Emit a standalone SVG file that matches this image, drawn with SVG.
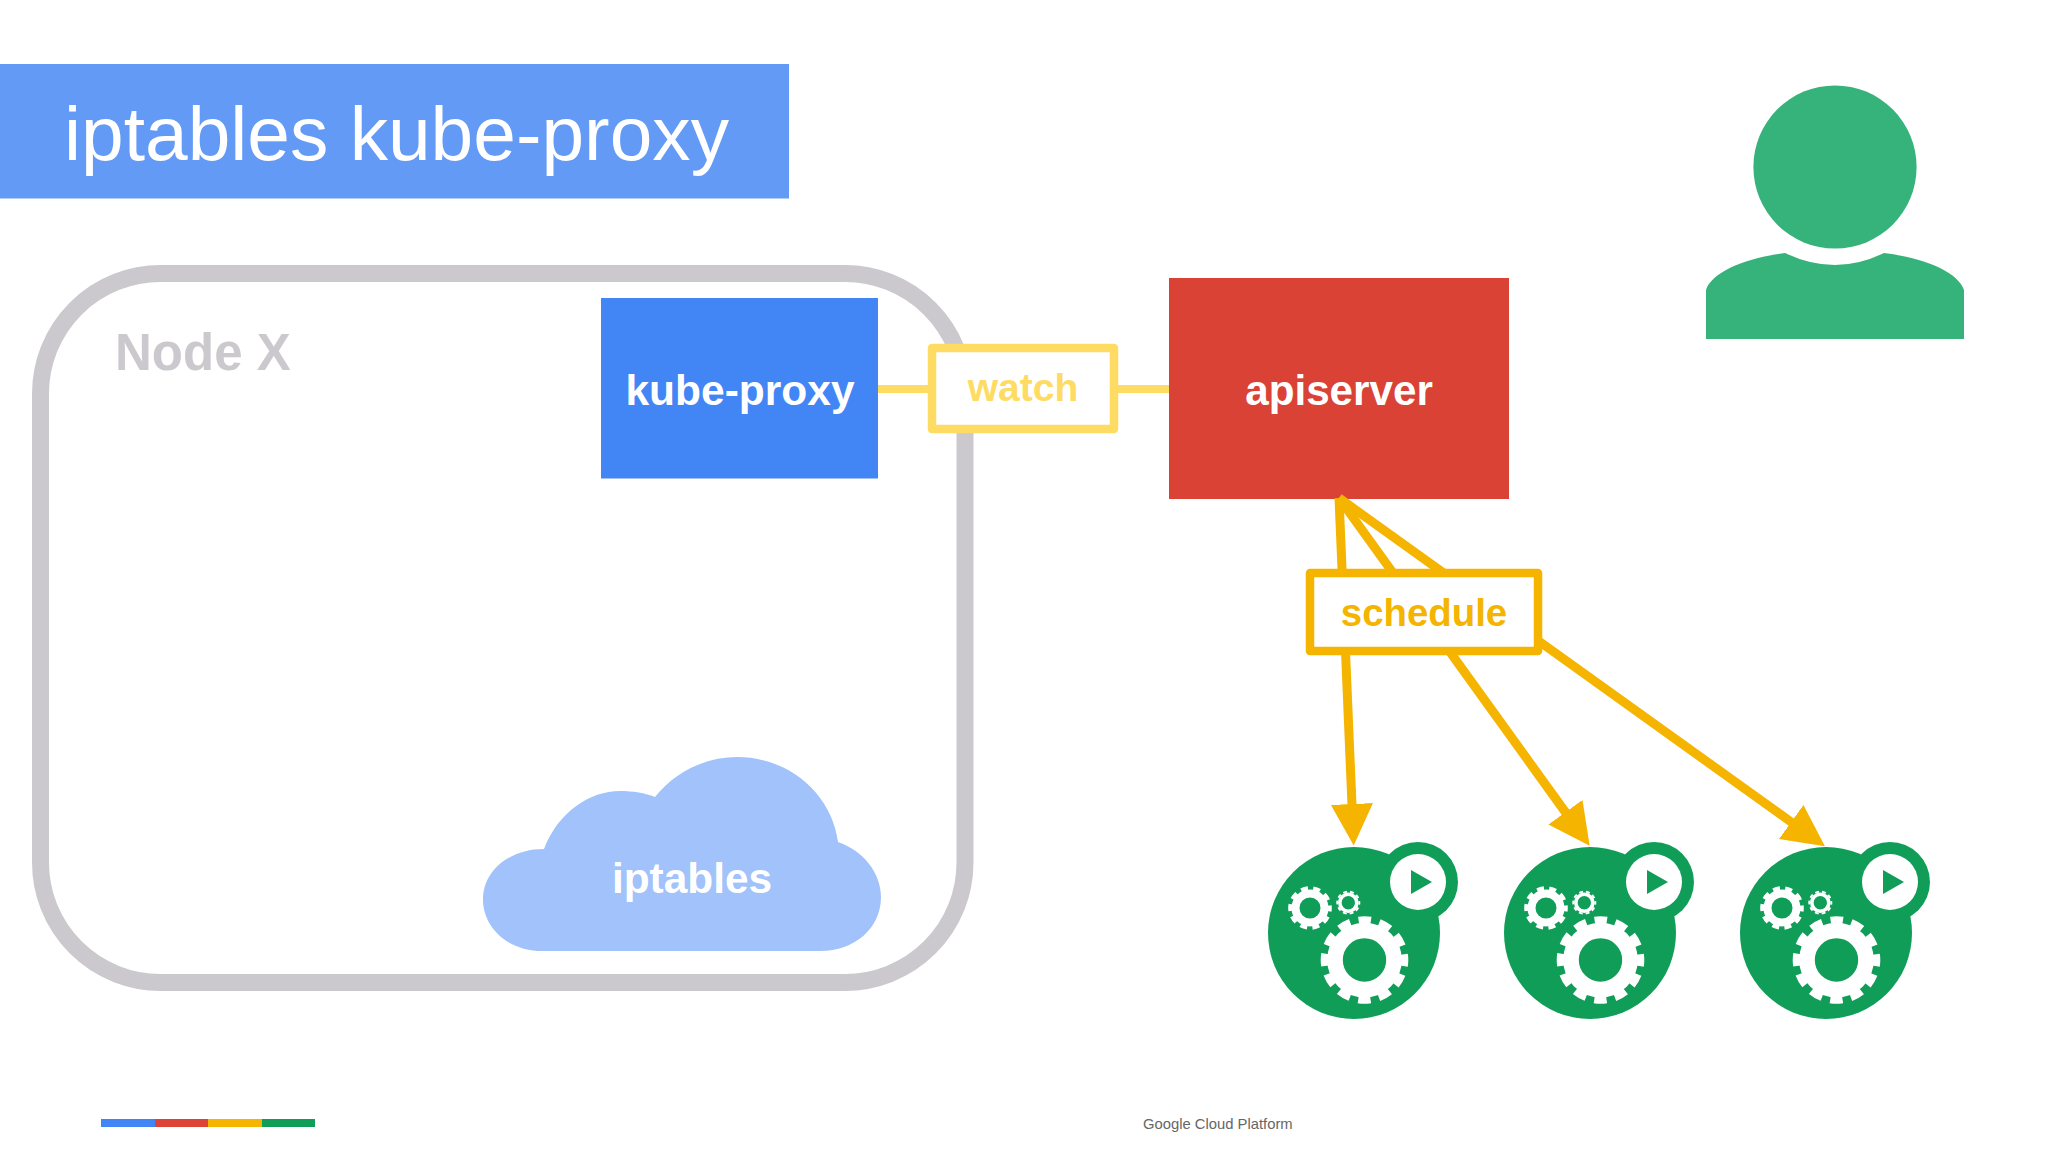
<svg xmlns="http://www.w3.org/2000/svg" width="2048" height="1152" viewBox="0 0 2048 1152">
<defs>
<g id="pod">
<circle cx="1354" cy="933" r="86" class="g"/>
<circle cx="1418" cy="882" r="40" class="g"/>
<circle cx="1418" cy="882" r="28" fill="#fff"/>
<polygon points="1411,870 1432,882 1411,894" class="g"/>
<g fill="none" stroke="#fff">
<circle cx="1364.500" cy="960" r="29.500" stroke-width="15.600"/>
<circle cx="1364.500" cy="960" r="40" stroke-width="7.600" stroke-dasharray="12.400 8.540" stroke-dashoffset="6.200"/>
<circle cx="1310" cy="908" r="14.500" stroke-width="8"/>
<circle cx="1310" cy="908" r="19.800" stroke-width="4" stroke-dasharray="7 5.440" stroke-dashoffset="3.500"/>
<circle cx="1348.300" cy="902.700" r="8.500" stroke-width="3.600"/>
<circle cx="1348.300" cy="902.700" r="11" stroke-width="2" stroke-dasharray="3.900 3" stroke-dashoffset="1.950"/>
</g>
</g>
<marker id="head" markerUnits="userSpaceOnUse" markerWidth="44" markerHeight="44" refX="1" refY="21" orient="auto"><polygon points="0,0 41.500,21 0,42" fill="#f4b400"/></marker>
</defs>
<style>
text{font-family:"Liberation Sans",Arial,sans-serif}
.g{fill:#0f9d58}
.b{font-weight:700;text-anchor:middle}
.w{fill:#fff}
.conn{stroke:#f4b400;stroke-width:9;fill:none}
</style>
<rect width="2048" height="1152" fill="#fff"/>
<g id="title"><rect x="0" y="64" width="789" height="134.500" fill="#639af5"/><text x="64" y="160" font-size="76.700" fill="#fff">iptables kube-proxy</text></g>
<g id="node-x"><rect x="40.500" y="273.500" width="924.500" height="709" rx="120" fill="none" stroke="#cbc9cd" stroke-width="17"/><text x="115" y="370" font-size="51" font-weight="700" fill="#cbc9cd">Node X</text></g>
<g id="kube-proxy"><rect x="601" y="298" width="277" height="180.500" fill="#4285f4"/><text class="b w" x="740" y="405" font-size="42.500">kube-proxy</text></g>
<g id="apiserver"><rect x="1169" y="278" width="340" height="221" fill="#d94235"/><text class="b w" x="1339" y="405" font-size="42.200">apiserver</text></g>
<g id="connectors">
<line x1="878" y1="389" x2="1169" y2="389" stroke="#fedb62" stroke-width="8"/>
<line class="conn" x1="1339" y1="498" x2="1352" y2="805" marker-end="url(#head)"/>
<line class="conn" x1="1339" y1="498" x2="1566" y2="813" marker-end="url(#head)"/>
<line class="conn" x1="1339" y1="498" x2="1792" y2="822.600" marker-end="url(#head)"/>
</g>
<g id="watch"><rect x="932" y="348" width="182" height="81" fill="#fff" stroke="#fedb62" stroke-width="8.500" stroke-linejoin="round"/><text class="b" x="1023" y="401" font-size="39" fill="#fedb62">watch</text></g>
<g id="schedule"><rect x="1310" y="573" width="228" height="78" fill="#fff" stroke="#f4b400" stroke-width="8.500" stroke-linejoin="round"/><text class="b" x="1424" y="626" font-size="38.400" fill="#f4b400">schedule</text></g>
<g id="iptables"><path d="M543 951C505 951 483 925 483 900C483 870 510 849 544 849C558 812 590 791 620 791C633 791 645 793 655 797C675 772 705 757 737 757C790 757 832 795 838 842C862 850 881 872 881 897C881 928 855 951 820 951Z" fill="#a1c2fa"/><text class="b w" x="692" y="893" font-size="42.400">iptables</text></g>
<g id="user"><circle cx="1835" cy="167" r="81.600" fill="#36b37a"/><path d="M1706 339V290C1712 272 1745 258 1785 253Q1835 277 1884 253C1925 258 1958 272 1964 290V339Z" fill="#36b37a"/></g>
<g id="pod-1"><use href="#pod"/></g>
<g id="pod-2"><use href="#pod" x="236"/></g>
<g id="pod-3"><use href="#pod" x="472"/></g>
<g id="footer"><rect x="101" y="1119" width="54" height="8" fill="#4285f4"/><rect x="155" y="1119" width="53" height="8" fill="#db4437"/><rect x="208" y="1119" width="54" height="8" fill="#f4b400"/><rect x="262" y="1119" width="53" height="8" fill="#0f9d58"/><text x="1143" y="1129" font-size="14.800" fill="#666">Google Cloud Platform</text></g>
</svg>
